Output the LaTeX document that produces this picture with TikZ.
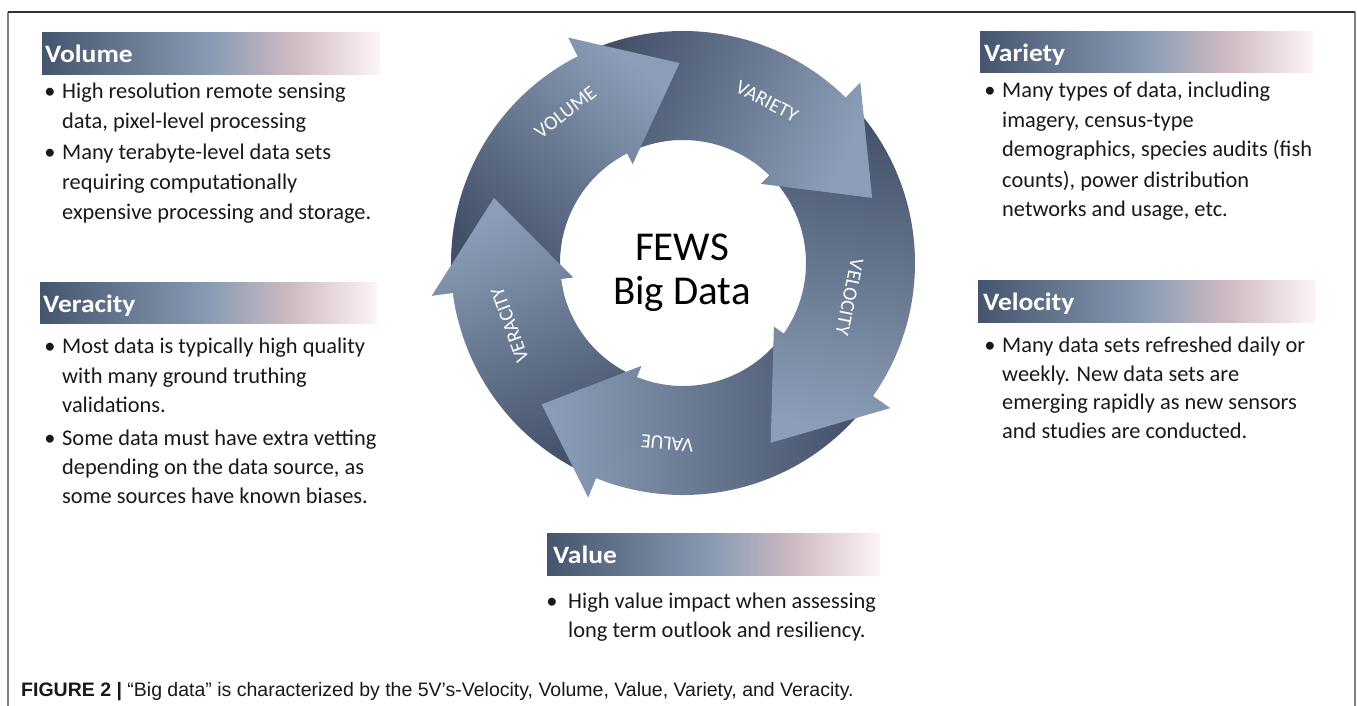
\documentclass[tikz,border=0pt]{standalone}
\usepackage{fontspec}
\setmainfont{Carlito}
\newfontfamily\hdrfont[FakeStretch=1.1]{Carlito}
\newfontfamily\capfont{Liberation Sans}
\definecolor{ardark}{RGB}{66,80,104}
\definecolor{arlight}{RGB}{140,158,183}
\definecolor{bA}{RGB}{70,85,110}
\definecolor{bB}{RGB}{136,155,179}
\definecolor{bC}{RGB}{206,186,194}
\definecolor{bD}{RGB}{253,244,244}
\definecolor{txtc}{RGB}{25,25,25}
\pgfdeclarehorizontalshading{hdrshade}{100bp}{color(0bp)=(bA); color(25bp)=(bA); color(50bp)=(bB); color(62bp)=(bC); color(75bp)=(bD); color(100bp)=(bD)}
\newcommand\cycarr[4]{%
  \shade[top color=arlight, bottom color=ardark, shading angle=#4]
   ({90-#1}:232) arc[start angle={90-#1}, end angle={90-#2}, radius=232]
   -- ({90-#2}:253) -- ({90-#3}:200) -- ({90-#2}:111) -- ({90-#2}:123)
   arc[start angle={90-#2}, end angle={90-#1}, radius=123] -- cycle;}
\tikzset{
  txt/.style={anchor=base west, inner sep=0pt, font=\fontsize{22.4}{26}\selectfont, text=txtc},
  bul/.style={anchor=base, inner sep=0pt, font=\fontsize{22.4}{26}\selectfont, text=txtc},
  hdr/.style={anchor=base west, inner sep=0pt, font=\hdrfont\fontsize{25}{28}\selectfont\bfseries, text=white},
  hbar/.style={shading=hdrshade},
  alab/.style={inner sep=0pt, font=\fontsize{20}{22}\selectfont, text=white},
}
\begin{document}
\begin{tikzpicture}[x=1pt,y=1pt]
\useasboundingbox (0,0) rectangle (1357,-706);
\fill[white] (0,0) rectangle (1357,-706);
% frame
\draw[black!50, line width=1.4pt] (8,-706) -- (8,-12);
\draw[black!50, line width=1.4pt] (1355,-706) -- (1355,-12);
\draw[black!80, line width=1.1pt] (8,-12) -- (1355,-12);

% cycle
\begin{scope}[shift={(683,-263)}]
  \cycarr{204}{262.6}{289}{-336.5}
  \cycarr{127}{202}{225}{-266}
  \cycarr{46.5}{125}{154}{-190.25}
  \cycarr{335}{404.5}{431}{-473}
  \cycarr{264.6}{333}{359}{-401.8}
  \begin{scope}
    \clip (0,0) -- ({90-256}:300) arc[start angle={90-256}, end angle={90-296}, radius=300] -- cycle;
    \cycarr{204}{262.6}{289}{-336.5}
  \end{scope}
  \node[alab, rotate=38] (lvol) at ({90-322}:191) {VOLUME};
  \node[alab, rotate=-27.5] (lvar) at ({90-27.5}:182) {VARIETY};
  \node[alab, rotate=-101.6] (lvel) at ({90-101.6}:170) {VELOCITY};
  \node[alab, rotate=-185] (lval) at ({90-185}:181) {VALUE};
  \node[alab, rotate=109.7] (lver) at ({90-250.3}:184) {VERACITY};
\end{scope}
\node[anchor=base, inner sep=0pt, font=\fontsize{41}{44}\selectfont] (fews) at (682,-260) {FEWS};
\node[anchor=base, inner sep=0pt, font=\fontsize{41}{44}\selectfont] (bigdata) at (682,-304) {Big Data};

% Volume
\shade[hbar] (42,-33) rectangle (380,-75);
\node[hdr] (hvol) at (45,-63) {Volume};
\node[bul] (bv1) at (50,-99) {•};
\node[txt] (v1) at (62,-99) {High resolution remote sensing};
\node[txt] (v2) at (62,-129) {data, pixel-level processing};
\node[bul] (bv2) at (50,-160) {•};
\node[txt] (v3) at (62,-160) {Many terabyte-level data sets};
\node[txt] (v4) at (62,-189.5) {requiring computationally};
\node[txt] (v5) at (62,-219) {expensive processing and storage.};

% Veracity
\shade[hbar] (40,-282) rectangle (377,-323);
\node[hdr] (hver) at (43,-312) {Veracity};
\node[bul] (br1) at (50,-353) {•};
\node[txt] (r1) at (62,-353) {Most data is typically high quality};
\node[txt] (r2) at (62,-383) {with many ground truthing};
\node[txt] (r3) at (62,-412) {validations.};
\node[bul] (br2) at (50,-445) {•};
\node[txt] (r4) at (62,-445) {Some data must have extra vetting};
\node[txt] (r5) at (62,-474) {depending on the data source, as};
\node[txt] (r6) at (62,-503) {some sources have known biases.};

% Variety
\shade[hbar] (980,-32) rectangle (1313,-73);
\node[hdr] (hvar) at (984,-62) {Variety};
\node[bul] (ba1) at (990,-98) {•};
\node[txt] (a1) at (1002,-98) {Many types of data, including};
\node[txt] (a2) at (1002,-128) {imagery, census-type};
\node[txt] (a3) at (1002,-157) {demographics, species audits (fish};
\node[txt] (a4) at (1002,-187) {counts), power distribution};
\node[txt] (a5) at (1002,-216) {networks and usage, etc.};

% Velocity
\shade[hbar] (978,-280) rectangle (1315,-322);
\node[hdr] (hvel) at (983,-310) {Velocity};
\node[bul] (bl1) at (990,-352) {•};
\node[txt] (l1) at (1002,-352) {Many data sets refreshed daily or};
\node[txt] (l2) at (1002,-381) {weekly. New data sets are};
\node[txt] (l3) at (1002,-409) {emerging rapidly as new sensors};
\node[txt] (l4) at (1002,-438) {and studies are conducted.};

% Value
\shade[hbar] (547,-533) rectangle (880,-575);
\node[hdr] (hval) at (553,-563) {Value};
\node[bul] (bu1) at (552,-608) {•};
\node[txt] (u1) at (568,-608) {High value impact when assessing};
\node[txt] (u2) at (568,-637) {long term outlook and resiliency.};

% caption
\node[anchor=base west, inner sep=0pt, font=\capfont\fontsize{19.5}{22}\selectfont, text=black!90] (cap) at (21,-696) {\textbf{FIGURE 2 |} “Big data” is characterized by the 5V’s-Velocity, Volume, Value, Variety, and Veracity.};
\end{tikzpicture}
\end{document}
